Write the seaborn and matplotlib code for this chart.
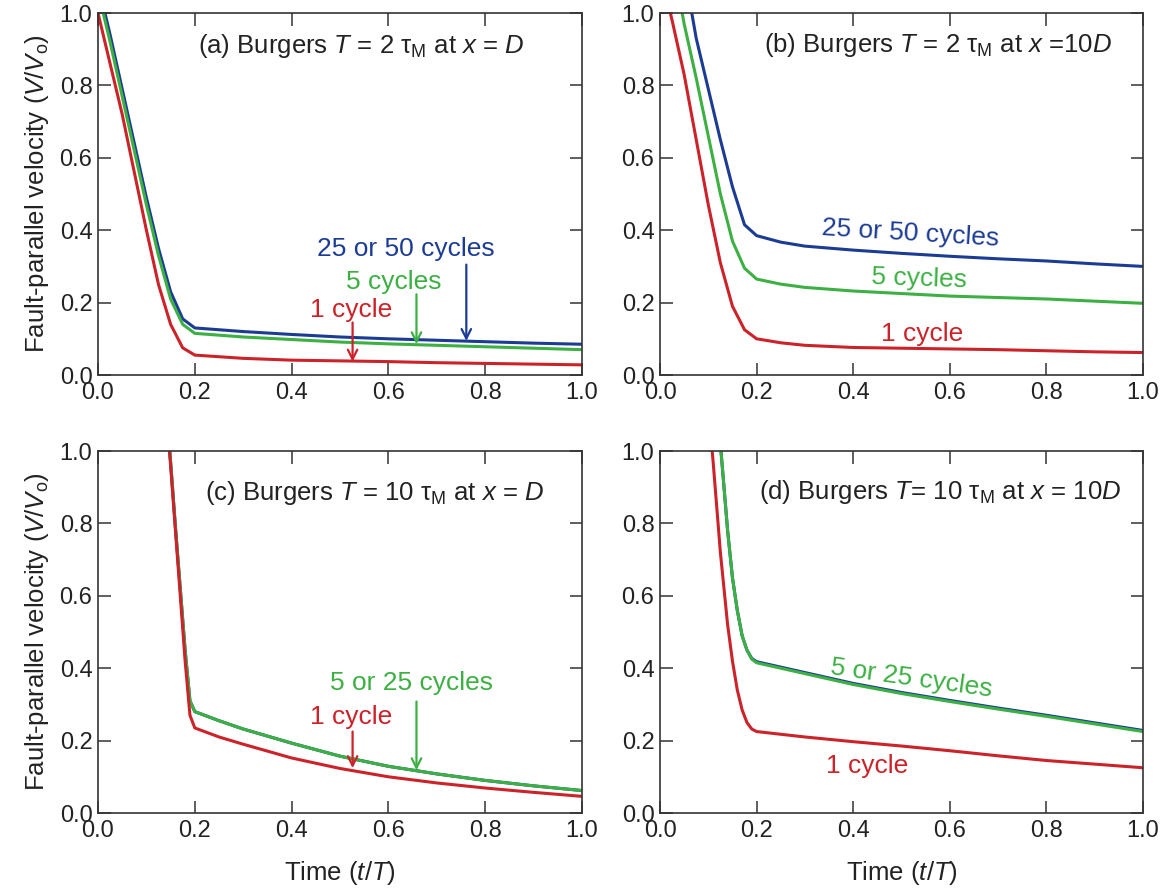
import matplotlib
matplotlib.use("Agg")
import matplotlib.pyplot as plt
import seaborn as sns
import pandas as pd

# ---------------- data ----------------
t_a = [0, 0.025, 0.05, 0.075, 0.1, 0.125, 0.15, 0.175, 0.2, 0.3, 0.4, 0.5, 0.6, 0.7, 0.8, 0.9, 1.0]
red_a = [1.0, 0.86, 0.72, 0.56, 0.40, 0.25, 0.14, 0.075, 0.055, 0.046, 0.041, 0.039, 0.037, 0.034, 0.032, 0.030, 0.028]
green_a = [1.06, 0.92, 0.77, 0.62, 0.47, 0.33, 0.21, 0.14, 0.115, 0.105, 0.098, 0.091, 0.086, 0.082, 0.078, 0.074, 0.070]
blue_a = [1.08, 0.94, 0.79, 0.64, 0.49, 0.35, 0.23, 0.155, 0.13, 0.12, 0.112, 0.105, 0.100, 0.096, 0.092, 0.088, 0.085]

t_b = [0, 0.025, 0.05, 0.075, 0.1, 0.125, 0.15, 0.175, 0.2, 0.25, 0.3, 0.4, 0.5, 0.6, 0.7, 0.8, 0.9, 1.0]
red_b = [1.12, 0.98, 0.83, 0.65, 0.47, 0.31, 0.19, 0.125, 0.10, 0.089, 0.082, 0.076, 0.074, 0.072, 0.070, 0.067, 0.064, 0.062]
green_b = [1.30, 1.15, 0.97, 0.82, 0.66, 0.50, 0.37, 0.295, 0.265, 0.251, 0.242, 0.232, 0.225, 0.218, 0.214, 0.210, 0.204, 0.198]
blue_b = [1.50, 1.30, 1.12, 0.93, 0.79, 0.65, 0.52, 0.415, 0.385, 0.367, 0.356, 0.345, 0.336, 0.328, 0.321, 0.315, 0.307, 0.300]

t_c = [0.14, 0.15, 0.16, 0.17, 0.18, 0.19, 0.2, 0.25, 0.3, 0.4, 0.5, 0.6, 0.7, 0.8, 0.9, 1.0]
red_c = [1.13, 0.96, 0.78, 0.60, 0.42, 0.27, 0.235, 0.21, 0.19, 0.152, 0.123, 0.100, 0.083, 0.069, 0.057, 0.046]
green_c = [1.14, 0.97, 0.79, 0.62, 0.45, 0.31, 0.28, 0.255, 0.232, 0.193, 0.157, 0.129, 0.108, 0.090, 0.075, 0.062]
blue_c = [1.14, 0.97, 0.79, 0.62, 0.45, 0.31, 0.28, 0.255, 0.232, 0.193, 0.157, 0.129, 0.108, 0.090, 0.075, 0.062]

t_d = [0.1, 0.11, 0.125, 0.14, 0.15, 0.16, 0.17, 0.18, 0.19, 0.2, 0.3, 0.4, 0.5, 0.6, 0.7, 0.8, 0.9, 1.0]
red_d = [1.12, 0.97, 0.72, 0.52, 0.42, 0.34, 0.285, 0.25, 0.232, 0.225, 0.210, 0.197, 0.185, 0.172, 0.158, 0.145, 0.135, 0.125]
green_d = [1.40, 1.25, 1.02, 0.78, 0.65, 0.56, 0.49, 0.45, 0.425, 0.415, 0.385, 0.355, 0.330, 0.308, 0.287, 0.267, 0.246, 0.225]
blue_d = [1.40, 1.25, 1.02, 0.78, 0.65, 0.56, 0.49, 0.45, 0.427, 0.418, 0.388, 0.358, 0.333, 0.311, 0.290, 0.270, 0.249, 0.228]

titles = [
    r"(a) Burgers $T$ = 2 $\mathrm{τ}_{\mathrm{M}}$ at $x$ = $D$",
    r"(b) Burgers $T$ = 2 $\mathrm{τ}_{\mathrm{M}}$ at $x$ =10$D$",
    r"(c) Burgers $T$ = 10 $\mathrm{τ}_{\mathrm{M}}$ at $x$ = $D$",
    r"(d) Burgers $T$= 10 $\mathrm{τ}_{\mathrm{M}}$ at $x$ = 10$D$",
]
xticks = [0.0, 0.2, 0.4, 0.6, 0.8, 1.0]
yticks = [0.0, 0.2, 0.4, 0.6, 0.8, 1.0]
ylabel = r"Fault-parallel velocity ($V$/$V_{\mathrm{o}}$)"
xlabel = r"Time ($t$/$T$)"

# ---------------- style ----------------
sns.set_theme(style="ticks")
plt.rcParams["font.family"] = ["Liberation Sans", "DejaVu Sans"]
plt.rcParams["mathtext.fontset"] = "custom"
plt.rcParams["mathtext.rm"] = "Liberation Sans"
plt.rcParams["mathtext.it"] = "Liberation Sans:italic"
plt.rcParams["mathtext.bf"] = "Liberation Sans:bold"

BLUE = "#1c3c94"
GREEN = "#3cb043"
RED = "#cc2229"
TXT = "#222222"
palette = {"blue": BLUE, "green": GREEN, "red": RED}

TICK_FS = 17
TITLE_FS = 18.5
ANN_FS = 19
LAB_FS = 18.5

fig = plt.figure(figsize=(11.71, 8.88), dpi=100)
W, H = 1171, 888


def add_ax(l, r, t, b):
    return fig.add_axes([l / W, 1 - b / H, (r - l) / W, (b - t) / H])


axes = [
    add_ax(98, 582, 13, 375),
    add_ax(660, 1143, 13, 375),
    add_ax(98, 582, 451, 813),
    add_ax(660, 1143, 451, 813),
]

series = [
    (t_a, blue_a, green_a, red_a),
    (t_b, blue_b, green_b, red_b),
    (t_c, blue_c, green_c, red_c),
    (t_d, blue_d, green_d, red_d),
]

title_pos = [(0.544, 0.889), (0.576, 0.892), (0.571, 0.865), (0.579, 0.868)]

for i, (ax, (t, b, g, r)) in enumerate(zip(axes, series)):
    df = pd.concat([
        pd.DataFrame({"t": t, "v": b, "s": "blue"}),
        pd.DataFrame({"t": t, "v": g, "s": "green"}),
        pd.DataFrame({"t": t, "v": r, "s": "red"}),
    ], ignore_index=True)
    sns.lineplot(data=df, x="t", y="v", hue="s", hue_order=["blue", "green", "red"],
                 palette=palette, estimator=None, sort=False, legend=False,
                 linewidth=2.2, ax=ax)
    ax.set_xlim(0, 1)
    ax.set_ylim(0, 1)
    ax.set_xticks(xticks)
    ax.set_yticks(yticks)
    ax.set_xticklabels([f"{v:.1f}" for v in xticks])
    ax.set_yticklabels([f"{v:.1f}" for v in yticks])
    ax.tick_params(direction="in", top=True, right=True, length=9, width=1.1,
                   labelsize=TICK_FS, colors="#333333", labelcolor=TXT)
    ax.tick_params(axis="y", pad=4)
    ax.tick_params(axis="x", pad=5)
    for sp in ax.spines.values():
        sp.set_linewidth(1.2)
        sp.set_color("#333333")
    ax.set_xlabel("")
    ax.set_ylabel("")
    tx, ty = title_pos[i]
    ax.text(tx, ty, titles[i], transform=ax.transAxes, ha="center", va="baseline",
            fontsize=TITLE_FS, color=TXT)
    if i in (0, 2):
        ax.set_ylabel(ylabel, fontsize=LAB_FS, color=TXT, labelpad=6)
    if i in (2, 3):
        ax.set_xlabel(xlabel, fontsize=LAB_FS, color=TXT, labelpad=12)

arrow_kw = dict(arrowstyle="->", lw=1.6, mutation_scale=17, shrinkA=0, shrinkB=0)

# (a)
ax = axes[0]
ax.text(0.637, 0.347, "25 or 50 cycles", color=BLUE, fontsize=ANN_FS, ha="center", va="center")
ax.text(0.612, 0.257, "5 cycles", color=GREEN, fontsize=ANN_FS, ha="center", va="center")
ax.text(0.524, 0.18, "1 cycle", color=RED, fontsize=ANN_FS, ha="center", va="center")
ax.annotate("", xy=(0.761, 0.094), xytext=(0.761, 0.305), arrowprops=dict(color=BLUE, **arrow_kw))
ax.annotate("", xy=(0.658, 0.085), xytext=(0.658, 0.223), arrowprops=dict(color=GREEN, **arrow_kw))
ax.annotate("", xy=(0.526, 0.037), xytext=(0.526, 0.145), arrowprops=dict(color=RED, **arrow_kw))

# (b)
ax = axes[1]
ax.text(0.518, 0.39, "25 or 50 cycles", color=BLUE, fontsize=ANN_FS, ha="center", va="center", rotation=-3.5)
ax.text(0.537, 0.266, "5 cycles", color=GREEN, fontsize=ANN_FS, ha="center", va="center", rotation=-2)
ax.text(0.543, 0.113, "1 cycle", color=RED, fontsize=ANN_FS, ha="center", va="center")

# (c)
ax = axes[2]
ax.text(0.648, 0.358, "5 or 25 cycles", color=GREEN, fontsize=ANN_FS, ha="center", va="center")
ax.text(0.524, 0.265, "1 cycle", color=RED, fontsize=ANN_FS, ha="center", va="center")
ax.annotate("", xy=(0.658, 0.118), xytext=(0.658, 0.308), arrowprops=dict(color=GREEN, **arrow_kw))
ax.annotate("", xy=(0.526, 0.124), xytext=(0.526, 0.225), arrowprops=dict(color=RED, **arrow_kw))

# (d)
ax = axes[3]
ax.text(0.521, 0.372, "5 or 25 cycles", color=GREEN, fontsize=ANN_FS, ha="center", va="center", rotation=-8)
ax.text(0.428, 0.129, "1 cycle", color=RED, fontsize=ANN_FS, ha="center", va="center")

fig.savefig("out.png", dpi=100)
